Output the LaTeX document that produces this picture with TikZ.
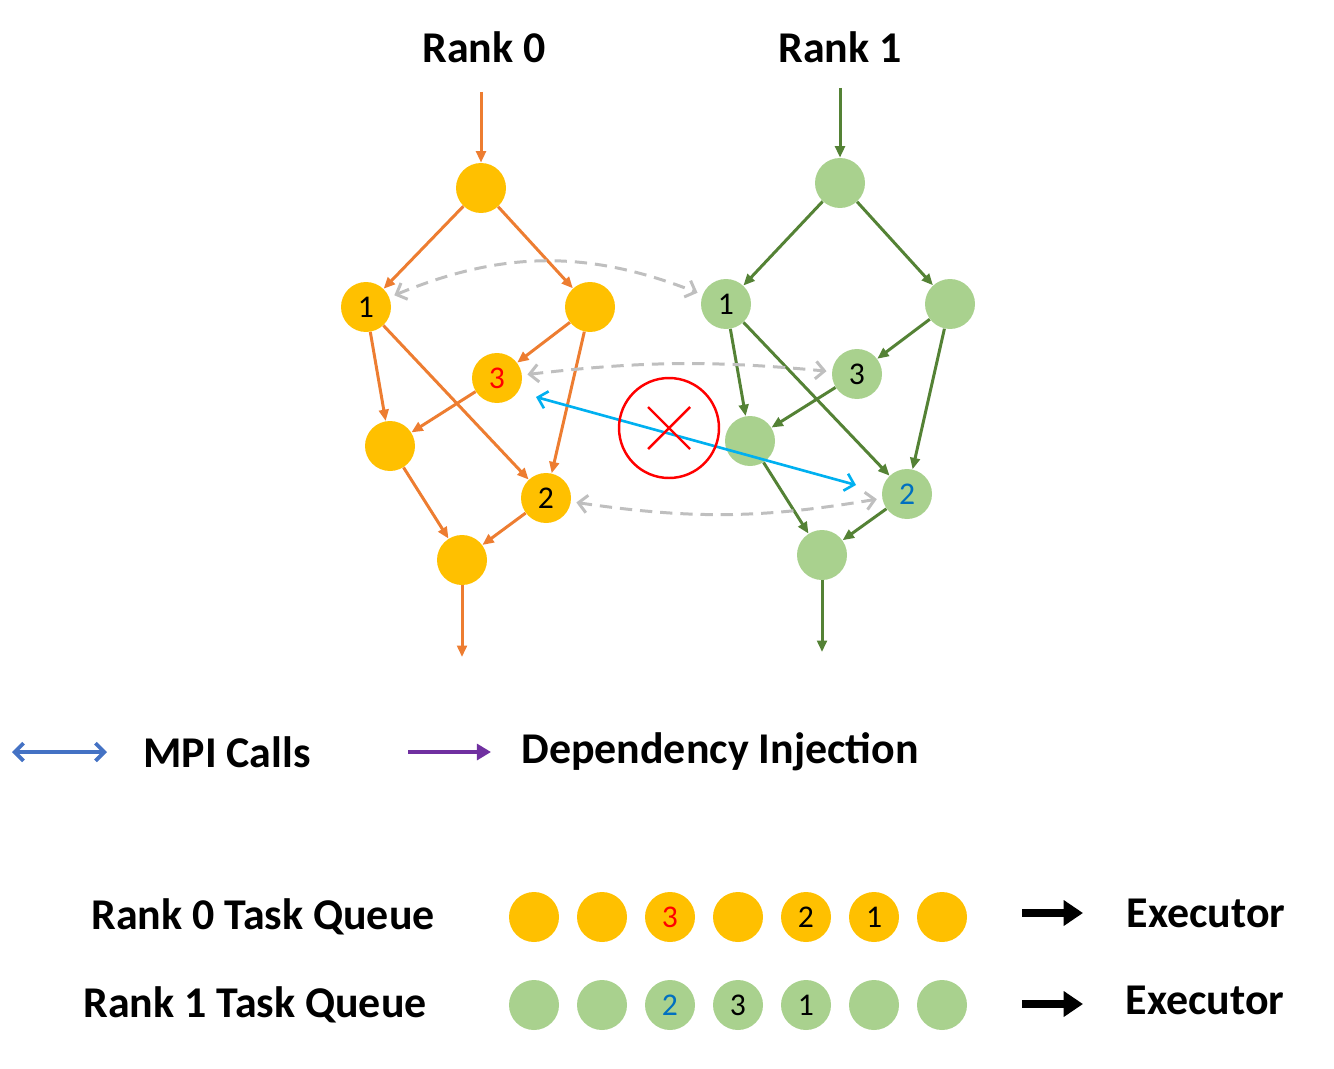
\documentclass[tikz,border=0pt]{standalone}
\usepackage{fontspec}
\setmainfont{Carlito}
\usetikzlibrary{arrows.meta}
\definecolor{orgfill}{HTML}{FFC000}
\definecolor{orgline}{HTML}{ED7D31}
\definecolor{grnfill}{HTML}{A9D18E}
\definecolor{grnline}{HTML}{548235}
\definecolor{depgray}{HTML}{BFBFBF}
\definecolor{mpicyan}{HTML}{00B0F0}
\definecolor{mpiblue}{HTML}{4472C4}
\definecolor{injpurple}{HTML}{7030A0}
\definecolor{numblue}{HTML}{0070C0}

\begin{document}
\begin{tikzpicture}[x=0.02cm,y=-0.02cm]
% style des nœuds
\tikzstyle{taskA}=[circle,fill=orgfill,minimum size=1cm,inner sep=0pt,font=\fontsize{18}{18}\selectfont]
\tikzstyle{taskB}=[circle,fill=grnfill,minimum size=1cm,inner sep=0pt,font=\fontsize{18}{18}\selectfont]
\tikzstyle{titre}=[font=\bfseries\fontsize{25}{29}\selectfont]
% style des flèches
\tikzstyle{depA}=[-{Triangle[length=6.5pt,width=5.5pt]},orgline,line width=1.7pt]
\tikzstyle{depB}=[-{Triangle[length=6.5pt,width=5.5pt]},grnline,line width=1.7pt]
\tikzstyle{lien}=[{Straight Barb[length=5pt,width=10pt]}-{Straight Barb[length=5pt,width=10pt]},depgray,line width=1.7pt,dash pattern=on 7pt off 4.5pt,shorten <=3pt,shorten >=3pt]
\tikzstyle{appel}=[{Straight Barb[length=5pt,width=10pt]}-{Straight Barb[length=5pt,width=10pt]},line width=1.5pt]
\useasboundingbox (0,0) rectangle (1334,1068);
% titres
\node[titre] (t0) at (484,47) {Rank 0};
\node[titre] (t1) at (840,47) {Rank 1};
% placement des nœuds, rank 0
\node[taskA] (a0) at (481,188) {};
\node[taskA] (a1) at (366,307) {1};
\node[taskA] (ar) at (590,307) {};
\node[taskA] (a3) at (497,378) {\textcolor{red}{3}};
\node[taskA] (al) at (390,446) {};
\node[taskA] (a2) at (546,498) {2};
\node[taskA] (ab) at (462,560) {};
\coordinate (ain) at (481,92);
\coordinate (aout) at (462,657);
% placement des nœuds, rank 1
\node[taskB] (b0) at (840,183) {};
\node[taskB] (b1) at (726,304) {1};
\node[taskB] (br) at (950,304) {};
\node[taskB] (b3) at (857,374) {3};
\node[taskB] (bl) at (750,441) {};
\node[taskB] (b2) at (907,494) {\textcolor{numblue}{2}};
\node[taskB] (bb) at (822,555) {};
\coordinate (bin) at (840,88);
\coordinate (bout) at (822,652);
% placement des flèches
\draw[depA] (ain) -- (a0);
\draw[depA] (a0) -- (a1);
\draw[depA] (a0) -- (ar);
\draw[depA] (a1) -- (al);
\draw[depA] (a1) -- (a2);
\draw[depA] (ar) -- (a3);
\draw[depA] (ar) -- (a2);
\draw[depA] (a3) -- (al);
\draw[depA] (al) -- (ab);
\draw[depA] (a2) -- (ab);
\draw[depA] (ab) -- (aout);
\draw[depB] (bin) -- (b0);
\draw[depB] (b0) -- (b1);
\draw[depB] (b0) -- (br);
\draw[depB] (b1) -- (bl);
\draw[depB] (b1) -- (b2);
\draw[depB] (br) -- (b3);
\draw[depB] (br) -- (b2);
\draw[depB] (b3) -- (bl);
\draw[depB] (bl) -- (bb);
\draw[depB] (b2) -- (bb);
\draw[depB] (bb) -- (bout);
% dépendances entre ranks
\draw[lien] (a1) to[bend left=22] (b1);
\draw[lien] (a3) to[bend left=6] (b3);
\draw[lien] (a2) to[bend right=9] (b2);
% appel MPI bloqué
\coordinate (mpiA) at (536,397);
\coordinate (mpiB) at (856,485);
\draw[appel,mpicyan] (mpiA) -- (mpiB);
\node[circle,draw=red,line width=1.4pt,minimum size=2cm] (stop) at (669,428) {};
\draw[red,line width=1.4pt] (stop.center) ++(-21,-21) -- ++(42,42);
\draw[red,line width=1.4pt] (stop.center) ++(21,-21) -- ++(-42,42);
% légende
\coordinate (lg1a) at (12,752);
\coordinate (lg1b) at (107,752);
\draw[appel,mpiblue,line width=2.2pt] (lg1a) -- (lg1b);
\node[titre] (lgmpi) at (227,752) {MPI Calls};
\coordinate (lg2a) at (408,752);
\coordinate (lg2b) at (491,752);
\draw[-{Triangle[length=8pt,width=9pt]},injpurple,line width=2.2pt] (lg2a) -- (lg2b);
\node[titre] (lgdep) at (720,752) {Dependency Injection};
% files de tâches
\node[titre] (qa) at (263,917) {Rank 0 Task Queue};
\node[titre] (qb) at (255,1005) {Rank 1 Task Queue};
\foreach \i/\lab in {1/{},2/{},3/{\textcolor{red}{3}},4/{},5/2,6/1,7/{}}
  \node[taskA] (qa\i) at (466+68*\i,917) {\lab};
\foreach \i/\lab in {1/{},2/{},3/{\textcolor{numblue}{2}},4/3,5/1,6/{},7/{}}
  \node[taskB] (qb\i) at (466+68*\i,1005) {\lab};
\coordinate (exa1) at (1022,913);
\coordinate (exa2) at (1083,913);
\coordinate (exb1) at (1022,1004);
\coordinate (exb2) at (1083,1004);
\draw[-{Triangle[length=11pt,width=14pt]},line width=4.5pt] (exa1) -- (exa2);
\draw[-{Triangle[length=11pt,width=14pt]},line width=4.5pt] (exb1) -- (exb2);
\node[titre] (exa) at (1206,913) {Executor};
\node[titre] (exb) at (1205,1000) {Executor};
\end{tikzpicture}
\end{document}
